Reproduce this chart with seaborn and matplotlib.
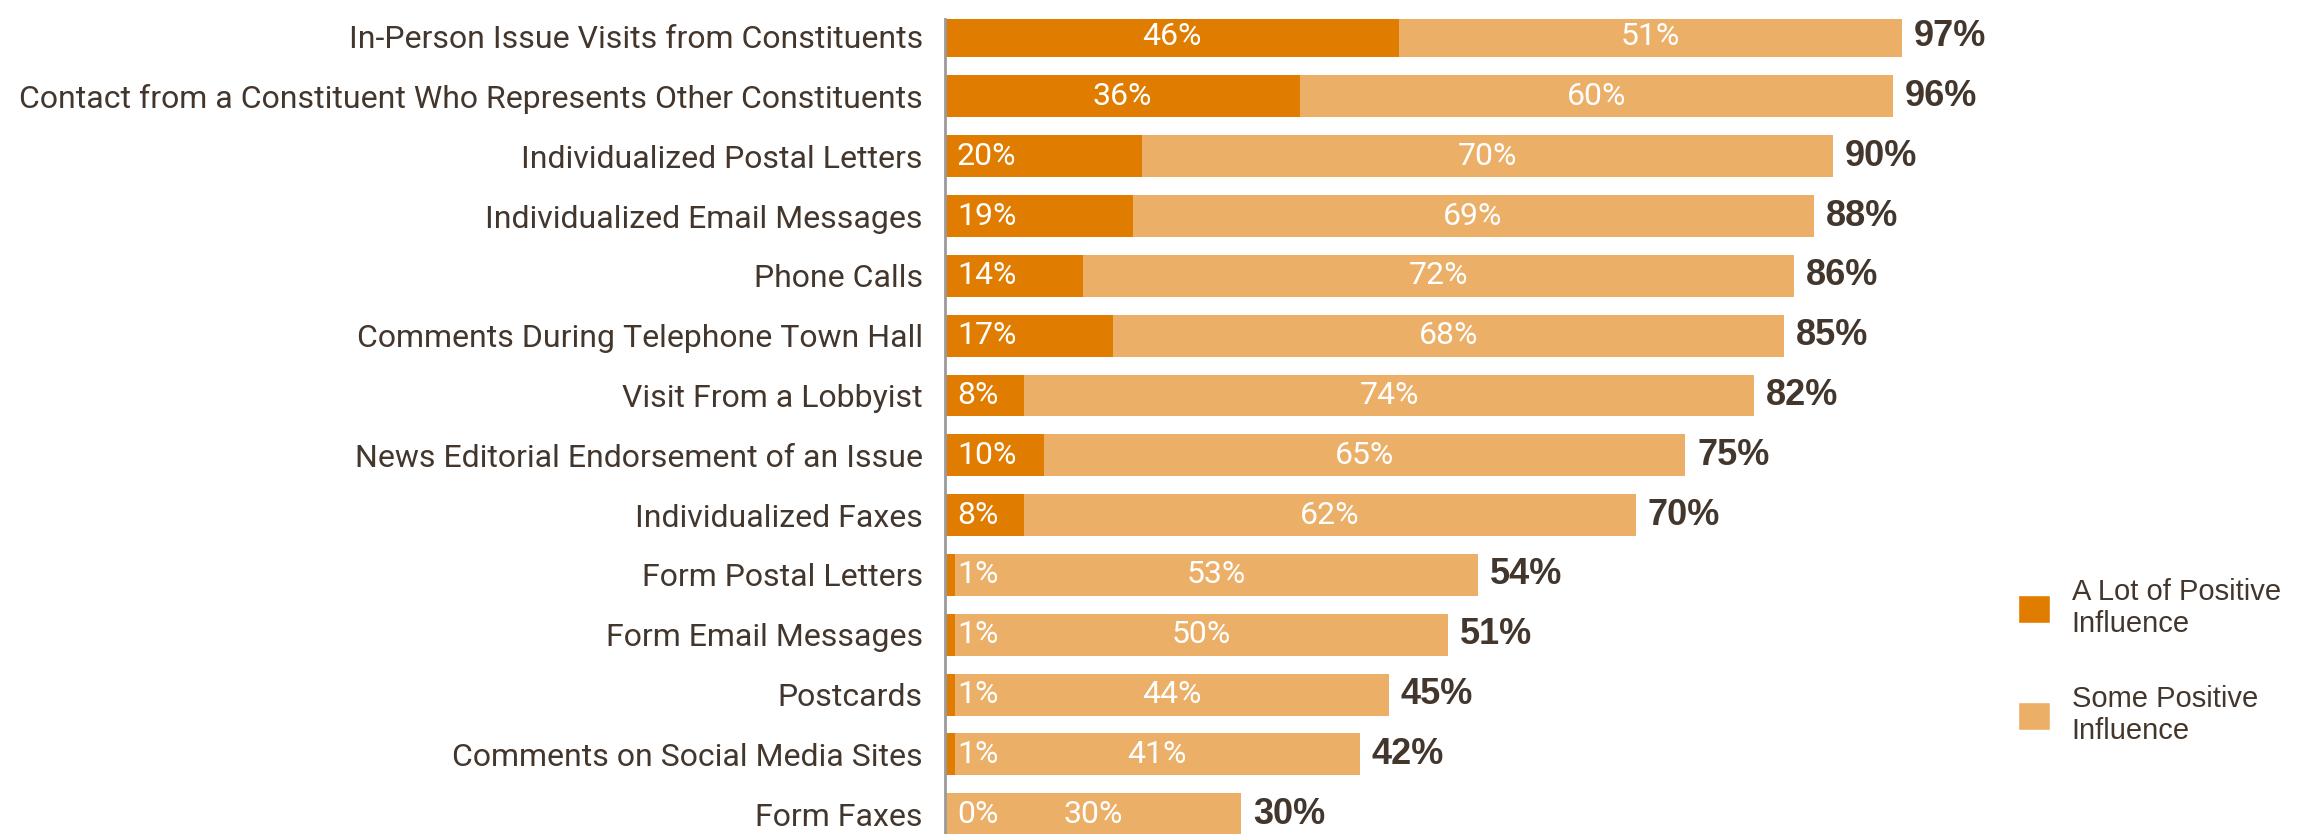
import matplotlib
matplotlib.use('Agg')
import matplotlib.pyplot as plt
import pandas as pd
import seaborn as sns
from matplotlib.patches import Patch

categories = [
    'In-Person Issue Visits from Constituents',
    'Contact from a Constituent Who Represents Other Constituents',
    'Individualized Postal Letters',
    'Individualized Email Messages',
    'Phone Calls',
    'Comments During Telephone Town Hall',
    'Visit From a Lobbyist',
    'News Editorial Endorsement of an Issue',
    'Individualized Faxes',
    'Form Postal Letters',
    'Form Email Messages',
    'Postcards',
    'Comments on Social Media Sites',
    'Form Faxes',
]
a_lot = [46, 36, 20, 19, 14, 17, 8, 10, 8, 1, 1, 1, 1, 0]
some = [51, 60, 70, 69, 72, 68, 74, 65, 62, 53, 50, 44, 41, 30]
totals = [97, 96, 90, 88, 86, 85, 82, 75, 70, 54, 51, 45, 42, 30]

DARK = '#E07C00'
LIGHT = '#EBAF68'
TEXT = '#43362D'

df = pd.DataFrame({'category': categories, 'a_lot': a_lot,
                   'some': some, 'total': totals})

sns.set_theme(style='white')
plt.rcParams['font.family'] = ['Liberation Sans Narrow', 'Roboto', 'DejaVu Sans']

fig = plt.figure(figsize=(22.97, 8.34), dpi=100)
ax = fig.add_axes([945 / 2297, 0.0, 987 / 2297, 0.977])

# stacked: light bar = total length, dark bar on top
sns.barplot(data=df, x='total', y='category', color=LIGHT, width=0.7,
            saturation=1, linewidth=0, ax=ax, orient='h')
sns.barplot(data=df, x='a_lot', y='category', color=DARK, width=0.7,
            saturation=1, linewidth=0, ax=ax, orient='h')

ax.set_xlim(0, 100)
ax.set_ylim(13.33, -0.29)
ax.set_xlabel('')
ax.set_ylabel('')
ax.set_xticks([])
ax.tick_params(axis='y', length=0, pad=16, labelsize=23, labelcolor=TEXT)
for s in ['top', 'right', 'bottom']:
    ax.spines[s].set_visible(False)
ax.spines['left'].set_color('#9A9A9A')
ax.spines['left'].set_linewidth(2)

for i, row in df.iterrows():
    # dark segment label
    if row['a_lot'] >= 25:
        ax.text(row['a_lot'] / 2, i, f"{row['a_lot']}%", ha='center',
                va='center', color='white', fontsize=23)
    else:
        ax.text(1.2, i, f"{row['a_lot']}%", ha='left', va='center',
                color='white', fontsize=23)
    # light segment label
    ax.text(row['a_lot'] + row['some'] / 2, i, f"{row['some']}%",
            ha='center', va='center', color='white', fontsize=23)
    # total label
    ax.text(row['total'] + 1.2, i, f"{row['total']}%", ha='left',
            va='center', color=TEXT, fontsize=26, fontweight='bold',
            family=['Liberation Sans', 'DejaVu Sans'], clip_on=False)

handles = [Patch(facecolor=DARK, label='A Lot of Positive\nInfluence'),
           Patch(facecolor=LIGHT, label='Some Positive\nInfluence')]
fig.legend(handles=handles, loc='center left', bbox_to_anchor=(0.867, 0.207),
           frameon=False, handlelength=1.1, handleheight=1.1,
           labelspacing=1.6, handletextpad=0.75,
           prop={'family': ['Liberation Sans', 'DejaVu Sans'], 'size': 21},
           labelcolor=TEXT)

fig.savefig('out.png', dpi=100)
